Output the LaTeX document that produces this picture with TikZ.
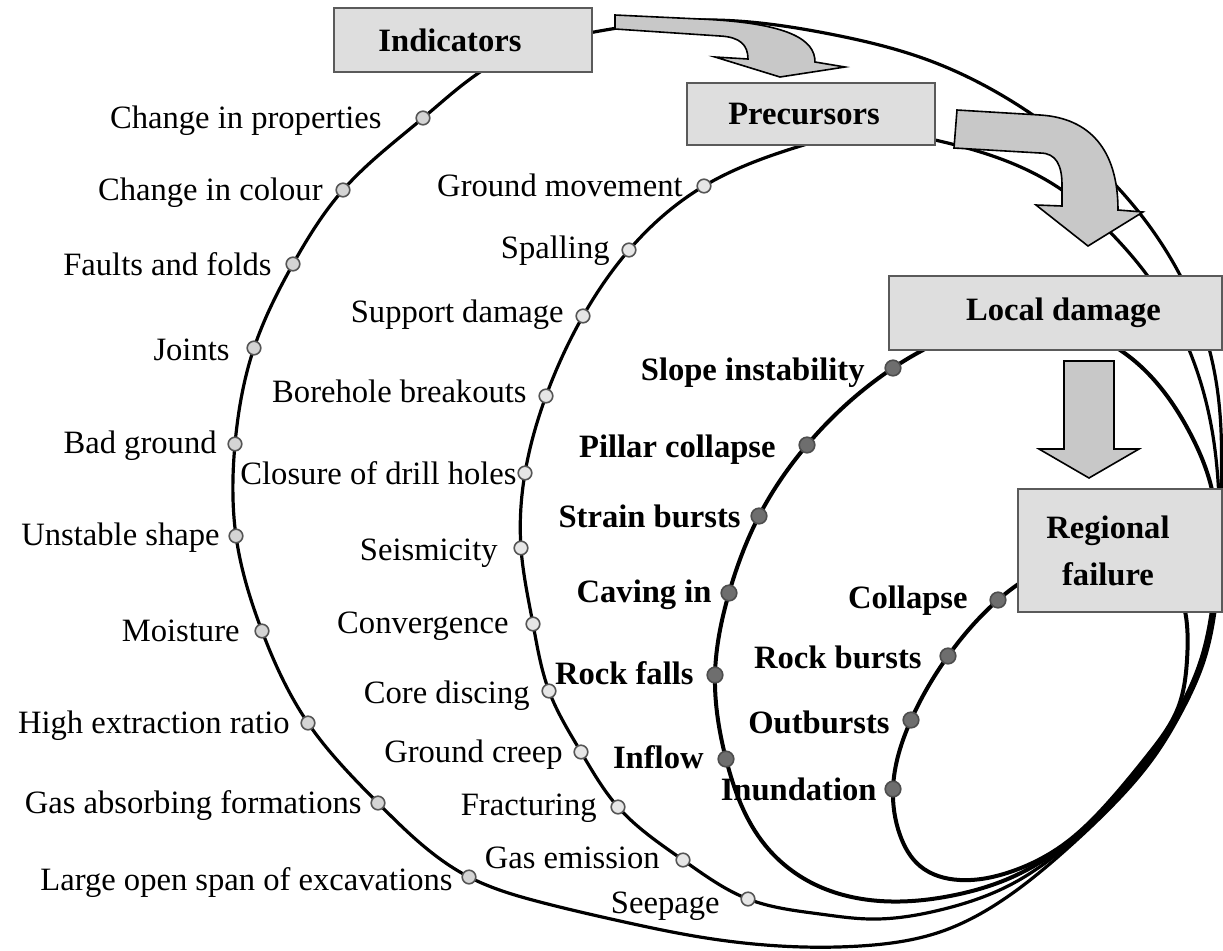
\documentclass[tikz,border=0pt]{standalone}
\usepackage{fontspec}
\setmainfont{Liberation Serif}
\usetikzlibrary{hobby,backgrounds}
\definecolor{boxfill}{HTML}{DEDEDE}
\definecolor{boxline}{HTML}{5A5A5A}
\definecolor{arrowfill}{HTML}{C8C8C8}
\definecolor{dotline}{HTML}{555555}
\definecolor{dotlight}{HTML}{D4D4D4}
\definecolor{dotpale}{HTML}{E6E6E6}
\definecolor{dotdark}{HTML}{6E6E6E}

\begin{document}
\begin{tikzpicture}[
  x=0.5pt, y=-0.5pt, font=\fontsize{16.3}{23.5}\selectfont,
  box/.style={draw=boxline, fill=boxfill, line width=1pt, inner sep=0pt},
  boxtext/.style={align=center, inner sep=0pt, font=\fontsize{16.3}{23.5}\selectfont\bfseries},
  bigarrow/.style={draw=black, fill=arrowfill, line width=0.8pt, line join=miter},
  ring/.style={draw=black, line width=1.6pt, use Hobby shortcut, closed=true},
  idot/.style={circle, draw=dotline, fill=dotlight, line width=0.8pt, minimum size=6.8pt, inner sep=0pt},
  pdot/.style={idot, fill=dotpale},
  ddot/.style={idot, fill=dotdark, draw=dotdark!70!black, minimum size=7.8pt},
  lbl/.style={anchor=base east, inner sep=0pt},
  blbl/.style={lbl, font=\fontsize{16.3}{23.5}\selectfont\bfseries}
]
  \useasboundingbox (0,0) rectangle (1223,950);

  % indicators
  \node[idot] (i1) at (423,118) {};  \node[lbl] (i1t) at (382,128) {Change in properties};
  \node[idot] (i2) at (343,190) {};  \node[lbl] (i2t) at (323,200) {Change in colour};
  \node[idot] (i3) at (293,264) {};  \node[lbl] (i3t) at (272,275) {Faults and folds};
  \node[idot] (i4) at (254,348) {};  \node[lbl] (i4t) at (230,360) {Joints};
  \node[idot] (i5) at (235,444) {};  \node[lbl] (i5t) at (217,453) {Bad ground};
  \node[idot] (i6) at (236,536) {};  \node[lbl] (i6t) at (220,545) {Unstable shape};
  \node[idot] (i7) at (262,631) {};  \node[lbl] (i7t) at (240,641) {Moisture};
  \node[idot] (i8) at (308,723) {};  \node[lbl] (i8t) at (290,733) {High extraction ratio};
  \node[idot] (i9) at (378,803) {};  \node[lbl] (i9t) at (362,813) {Gas absorbing formations};
  \node[idot] (i10) at (469,877) {}; \node[lbl] (i10t) at (453,890) {Large open span of excavations};

  % precursors
  \node[pdot] (p1) at (704,186) {};  \node[lbl] (p1t) at (683,196) {Ground movement};
  \node[pdot] (p2) at (629,250) {};  \node[lbl] (p2t) at (610,258) {Spalling};
  \node[pdot] (p3) at (583,316) {};  \node[lbl] (p3t) at (564,322) {Support damage};
  \node[pdot] (p4) at (546,396) {};  \node[lbl] (p4t) at (527,402) {Borehole breakouts};
  \node[pdot] (p5) at (525,473) {};  \node[lbl] (p5t) at (517,484) {Closure of drill holes};
  \node[pdot] (p6) at (521,548) {};  \node[lbl] (p6t) at (498,560) {Seismicity};
  \node[pdot] (p7) at (533,624) {};  \node[lbl] (p7t) at (509,633) {Convergence};
  \node[pdot] (p8) at (549,691) {};  \node[lbl] (p8t) at (530,703) {Core discing};
  \node[pdot] (p9) at (581,752) {};  \node[lbl] (p9t) at (563,762) {Ground creep};
  \node[pdot] (p10) at (618,807) {}; \node[lbl] (p10t) at (597,815) {Fracturing};
  \node[pdot] (p11) at (683,860) {}; \node[lbl] (p11t) at (660,868) {Gas emission};
  \node[pdot] (p12) at (748,899) {}; \node[lbl] (p12t) at (720,913) {Seepage};

  % local damage
  \node[ddot] (l1) at (893,368) {}; \node[blbl] (l1t) at (865,380) {Slope instability};
  \node[ddot] (l2) at (807,445) {}; \node[blbl] (l2t) at (776,457) {Pillar collapse};
  \node[ddot] (l3) at (759,516) {}; \node[blbl] (l3t) at (741,527) {Strain bursts};
  \node[ddot] (l4) at (729,593) {}; \node[blbl] (l4t) at (712,602) {Caving in};
  \node[ddot] (l5) at (715,675) {}; \node[blbl] (l5t) at (694,684) {Rock falls};
  \node[ddot] (l6) at (726,759) {}; \node[blbl] (l6t) at (704,768) {Inflow};

  % regional failure
  \node[ddot] (r1) at (998,600) {}; \node[blbl] (r1t) at (968,608) {Collapse};
  \node[ddot] (r2) at (948,656) {}; \node[blbl] (r2t) at (922,668) {Rock bursts};
  \node[ddot] (r3) at (911,720) {}; \node[blbl] (r3t) at (890,733) {Outbursts};
  \node[ddot] (r4) at (893,789) {}; \node[blbl] (r4t) at (877,800) {Inundation};

  \begin{scope}[on background layer]
    \draw[ring] (i1.center) .. (500,60) .. (594,32) .. (700,20) .. (830,34) .. (928,60) .. (1030,113) .. (1120,190) .. (1180,275) .. (1210,352) .. (1221,430) .. (1221,500) .. (1220,552) .. (1215,611) .. (1204,661) .. (1183,709) .. (1154,757) .. (1113,805) .. (1069,847) .. (1010,895) .. (940,932) .. (860,946) .. (780,946) .. (700,937) .. (620,921) .. (540,902) .. (i10.center) .. (i9.center) .. (i8.center) .. (i7.center) .. (i6.center) .. (i5.center) .. (i4.center) .. (i3.center) .. (i2.center);
    \draw[ring] (p1.center) .. (794,148) .. (880,132) .. (935,140) .. (1062,190) .. (1110,232) .. (1147,275) .. (1190,352) .. (1212,430) .. (1219,500) .. (1219,551) .. (1214,610) .. (1203,660) .. (1182,708) .. (1152,756) .. (1112,804) .. (1067,846) .. (1010,885) .. (940,910) .. (870,919) .. (820,914) .. (p12.center) .. (p11.center) .. (p10.center) .. (p9.center) .. (p8.center) .. (p7.center) .. (p6.center) .. (p5.center) .. (p4.center) .. (p3.center) .. (p2.center);
    \draw[ring, line width=2pt] (l1.center) .. (923,350) .. (1020,322) .. (1123,352) .. (1190,433) .. (1212,490) .. (1217,550) .. (1212,610) .. (1201,660) .. (1180,708) .. (1150,755) .. (1110,803) .. (1065,845) .. (1010,878) .. (950,896) .. (880,901) .. (810,882) .. (765,845) .. (l6.center) .. (l5.center) .. (l4.center) .. (l3.center) .. (l2.center);
    \draw[ring, line width=2pt] (r1.center) .. (1040,572) .. (1110,560) .. (1170,580) .. (1187,625) .. (1187,660) .. (1178,708) .. (1148,755) .. (1108,803) .. (1063,845) .. (1010,872) .. (960,880) .. (920,866) .. (900,835) .. (r4.center) .. (r3.center) .. (r2.center);
  \end{scope}

  \node[box, minimum width=129pt, minimum height=32pt, label={[boxtext, xshift=-6.5pt]center:Indicators}] (ind) at (463,40) {};
  \node[box, minimum width=124pt, minimum height=31pt, label={[boxtext, xshift=-3.5pt]center:Precursors}] (pre) at (811,114) {};
  \node[box, minimum width=166.5pt, minimum height=37pt, label={[boxtext, xshift=4pt]center:Local damage}] (loc) at (1055.5,313) {};
  \node[box, minimum width=102pt, minimum height=61.5pt, label={[boxtext, xshift=-6pt]center:Regional\\ failure}] (reg) at (1120,550.5) {};

  \draw[bigarrow] (615,15) -- (700,19) .. controls (790,23) and (815,40) .. (815,62) -- (845,67) -- (780,77) -- (715,57) -- (748,59) .. controls (748,45) and (740,37) .. (720,36) -- (615,29) -- cycle;
  \draw[bigarrow] (957,110) -- (1040,115) .. controls (1090,118) and (1118,150) .. (1118,210) -- (1143,212) -- (1088,246) -- (1036,205) -- (1062,206) -- (1062,185) .. controls (1062,165) and (1056,153) .. (1040,153) -- (954,148) -- cycle;
  \draw[bigarrow] (1064,361) -- (1114,361) -- (1114,449) -- (1139,449) -- (1089,478) -- (1039,449) -- (1064,449) -- cycle;
\end{tikzpicture}
\end{document}
